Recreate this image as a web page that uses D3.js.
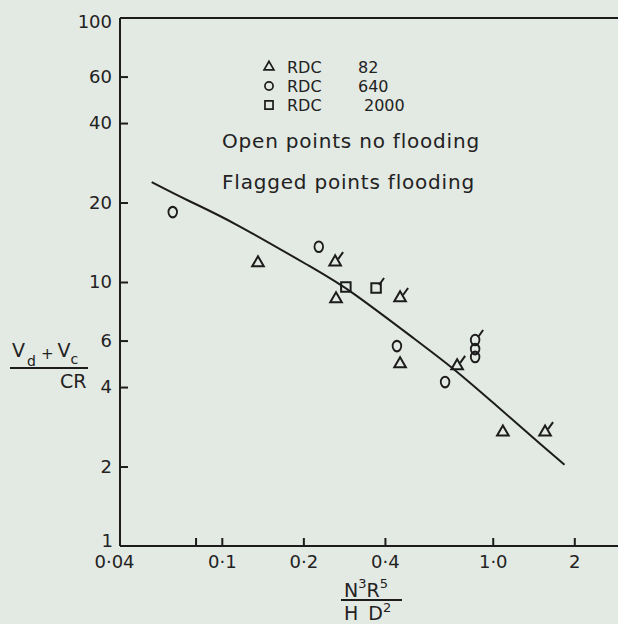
<!DOCTYPE html>
<html>
<head>
<meta charset="utf-8">
<script src="https://cdn.jsdelivr.net/npm/d3@7"></script>
<style>
body { margin: 0; background: #e3e9e3; }
svg { display: block; font-family: "DejaVu Sans", sans-serif; }
text { fill: #222; }
</style>
</head>
<body>
<svg></svg>
<script>
const svgWidth = 618;
const svgHeight = 624;

// RDC 82 -> triangles, flood 1 = flagged point
const rdc82X = [0.136, 0.262, 0.264, 0.455, 0.455, 0.739, 1.09, 1.56];
const rdc82Y = [11.8, 11.9, 8.62, 8.70, 4.89, 4.81, 2.70, 2.70];
const rdc82Flood = [0, 1, 0, 1, 0, 1, 0, 1];

// RDC 640 -> circles
const rdc640X = [0.0659, 0.228, 0.443, 0.667, 0.861, 0.861, 0.861];
const rdc640Y = [18.4, 13.6, 5.72, 4.18, 6.03, 5.57, 5.20];
const rdc640Flood = [0, 0, 0, 0, 1, 0, 0];

// RDC 2000 -> squares
const rdc2000X = [0.287, 0.371];
const rdc2000Y = [9.57, 9.49];
const rdc2000Flood = [0, 1];

// drawn correlation curve
const fitX = [0.0551, 0.0743, 0.107, 0.230, 0.287, 0.539, 0.714, 0.978, 1.59, 1.84];
const fitY = [23.9, 20.4, 17.2, 10.9, 9.57, 5.87, 4.72, 3.57, 2.31, 2.03];

const legendNames = ["RDC", "RDC", "RDC"];
const legendValues = ["82", "640", "2000"];
const notes = ["Open points no flooding", "Flagged points flooding"];

const xTicks = [0.04, 0.08, 0.1, 0.2, 0.4, 1, 2];
const xTickLabels = ["0·04", "", "0·1", "0·2", "0·4", "1·0", "2"];
const yTicks = [1, 2, 4, 6, 10, 20, 40, 60, 100];

const ink = "#1c1c1c";
const svg = d3.select("svg").attr("width", svgWidth).attr("height", svgHeight);
svg.append("rect").attr("width", svgWidth).attr("height", svgHeight).attr("fill", "#e3e9e3");

const x0 = 120; // where the two axes meet
const x = d3.scaleLog().domain([0.04, 3]).range([114, 622]);
const y = d3.scaleLog().domain([1, 100]).range([546, 18]);

// frame lines
svg.append("line").attr("x1", x0).attr("x2", svgWidth).attr("y1", y(1)).attr("y2", y(1))
    .attr("stroke", ink).attr("stroke-width", 2);
svg.append("line").attr("x1", x0).attr("x2", svgWidth).attr("y1", y(100)).attr("y2", y(100))
    .attr("stroke", ink).attr("stroke-width", 2);
svg.append("line").attr("x1", x0).attr("x2", x0).attr("y1", y(1)).attr("y2", y(100))
    .attr("stroke", ink).attr("stroke-width", 2);

const styleAxis = (g) => {
    g.select(".domain").remove();
    g.attr("color", ink).attr("font-size", 18).attr("font-family", "DejaVu Sans, sans-serif");
    g.selectAll(".tick line").attr("stroke-width", 2);
};

svg.append("g")
    .attr("transform", `translate(${x0},0)`)
    .call(d3.axisLeft(y).tickValues(yTicks).tickFormat(d3.format("d"))
        .tickSizeInner(-8).tickSizeOuter(0).tickPadding(8))
    .call(styleAxis)
    .call((g) => g.selectAll(".tick").filter((d) => d === 1 || d === 100).select("line").remove())
    .call((g) => g.selectAll(".tick").filter((d) => d === 1).select("text").attr("dy", "0em").attr("x", -7))
    .call((g) => g.selectAll(".tick").filter((d) => d === 100).select("text").attr("dy", "0.55em"));

svg.append("g")
    .attr("transform", `translate(0,${y(1)})`)
    .call(d3.axisBottom(x).tickValues(xTicks).tickFormat((d, i) => xTickLabels[i])
        .tickSizeInner(-8).tickSizeOuter(0).tickPadding(9))
    .call(styleAxis)
    .call((g) => g.selectAll(".tick").filter((d) => d === 0.04).select("line").remove());

// curve, smoothed through the read-off points
const line = d3.line()
    .x((d) => x(d[0]))
    .y((d) => y(d[1]))
    .curve(d3.curveBasis);

svg.append("path")
    .datum(d3.zip(fitX, fitY))
    .attr("d", line)
    .attr("fill", "none")
    .attr("stroke", ink)
    .attr("stroke-width", 2);

// points
const symbolOf = {
    tri: d3.symbol(d3.symbolTriangle, 58)(),
    circ: d3.symbol(d3.symbolCircle, 72)(),
    sq: d3.symbol(d3.symbolSquare, 90)()
};

const drawSet = (xs, ys, floods, kind) => {
    const data = d3.zip(xs, ys, floods);
    const g = svg.append("g");
    g.selectAll("path")
        .data(data)
        .join("path")
        .attr("d", symbolOf[kind])
        .attr("transform", (d) => `translate(${x(d[0])},${y(d[1])})` + (kind === "circ" ? " scale(0.9,1.1)" : ""))
        .attr("fill", "none")
        .attr("stroke", ink)
        .attr("stroke-width", 2);
    g.selectAll("line")
        .data(data.filter((d) => d[2] === 1))
        .join("line")
        .attr("x1", (d) => x(d[0]) + 3)
        .attr("y1", (d) => y(d[1]) - 3)
        .attr("x2", (d) => x(d[0]) + 8)
        .attr("y2", (d) => y(d[1]) - 10)
        .attr("stroke", ink)
        .attr("stroke-width", 2);
};

drawSet(rdc82X, rdc82Y, rdc82Flood, "tri");
drawSet(rdc640X, rdc640Y, rdc640Flood, "circ");
drawSet(rdc2000X, rdc2000Y, rdc2000Flood, "sq");

// legend
const legendKinds = ["tri", "circ", "sq"];
const legendRowY = [67, 86, 105];
const legend = svg.append("g");
legendKinds.forEach((k, i) => {
    legend.append("path")
        .attr("d", symbolOf[k])
        .attr("transform", `translate(269,${legendRowY[i]}) scale(0.85)`)
        .attr("fill", "none")
        .attr("stroke", ink)
        .attr("stroke-width", 2);
    legend.append("text").attr("x", 287).attr("y", legendRowY[i] + 6)
        .attr("font-size", 16).text(legendNames[i]);
    legend.append("text").attr("x", i === 2 ? 364 : 358).attr("y", legendRowY[i] + 6)
        .attr("font-size", 16).text(legendValues[i]);
});

svg.selectAll(".note")
    .data(notes)
    .join("text")
    .attr("class", "note")
    .attr("x", 222)
    .attr("y", (d, i) => [148, 189][i])
    .attr("font-size", 20)
    .attr("letter-spacing", 0.8)
    .text((d) => d);

// y axis label
const yl = svg.append("g");
const ylt = yl.append("text").attr("x", 12).attr("y", 357).attr("font-size", 19);
ylt.append("tspan").text("V");
ylt.append("tspan").attr("font-size", 14).attr("dx", 2).attr("dy", 9).text("d");
ylt.append("tspan").attr("font-size", 15).attr("dx", 5).attr("dy", -7).text("+");
ylt.append("tspan").attr("font-size", 19).attr("dx", 4).attr("dy", -2).text("V");
ylt.append("tspan").attr("font-size", 14).attr("dy", 7).text("c");
yl.append("line").attr("x1", 10).attr("x2", 88).attr("y1", 368).attr("y2", 368)
    .attr("stroke", ink).attr("stroke-width", 2);
yl.append("text").attr("x", 60).attr("y", 388).attr("font-size", 19).text("CR");

// x axis label
const xl = svg.append("g");
const num = xl.append("text").attr("x", 344).attr("y", 597).attr("font-size", 19);
num.append("tspan").text("N");
num.append("tspan").attr("font-size", 13).attr("dy", -9).text("3");
num.append("tspan").attr("dy", 9).text("R");
num.append("tspan").attr("font-size", 13).attr("dy", -9).text("5");
xl.append("line").attr("x1", 341).attr("x2", 402).attr("y1", 600).attr("y2", 600)
    .attr("stroke", ink).attr("stroke-width", 2);
const den = xl.append("text").attr("x", 344).attr("y", 620).attr("font-size", 19);
den.append("tspan").text("H");
den.append("tspan").attr("dx", 10).text("D");
den.append("tspan").attr("font-size", 13).attr("dy", -8).text("2");
</script>
</body>
</html>
